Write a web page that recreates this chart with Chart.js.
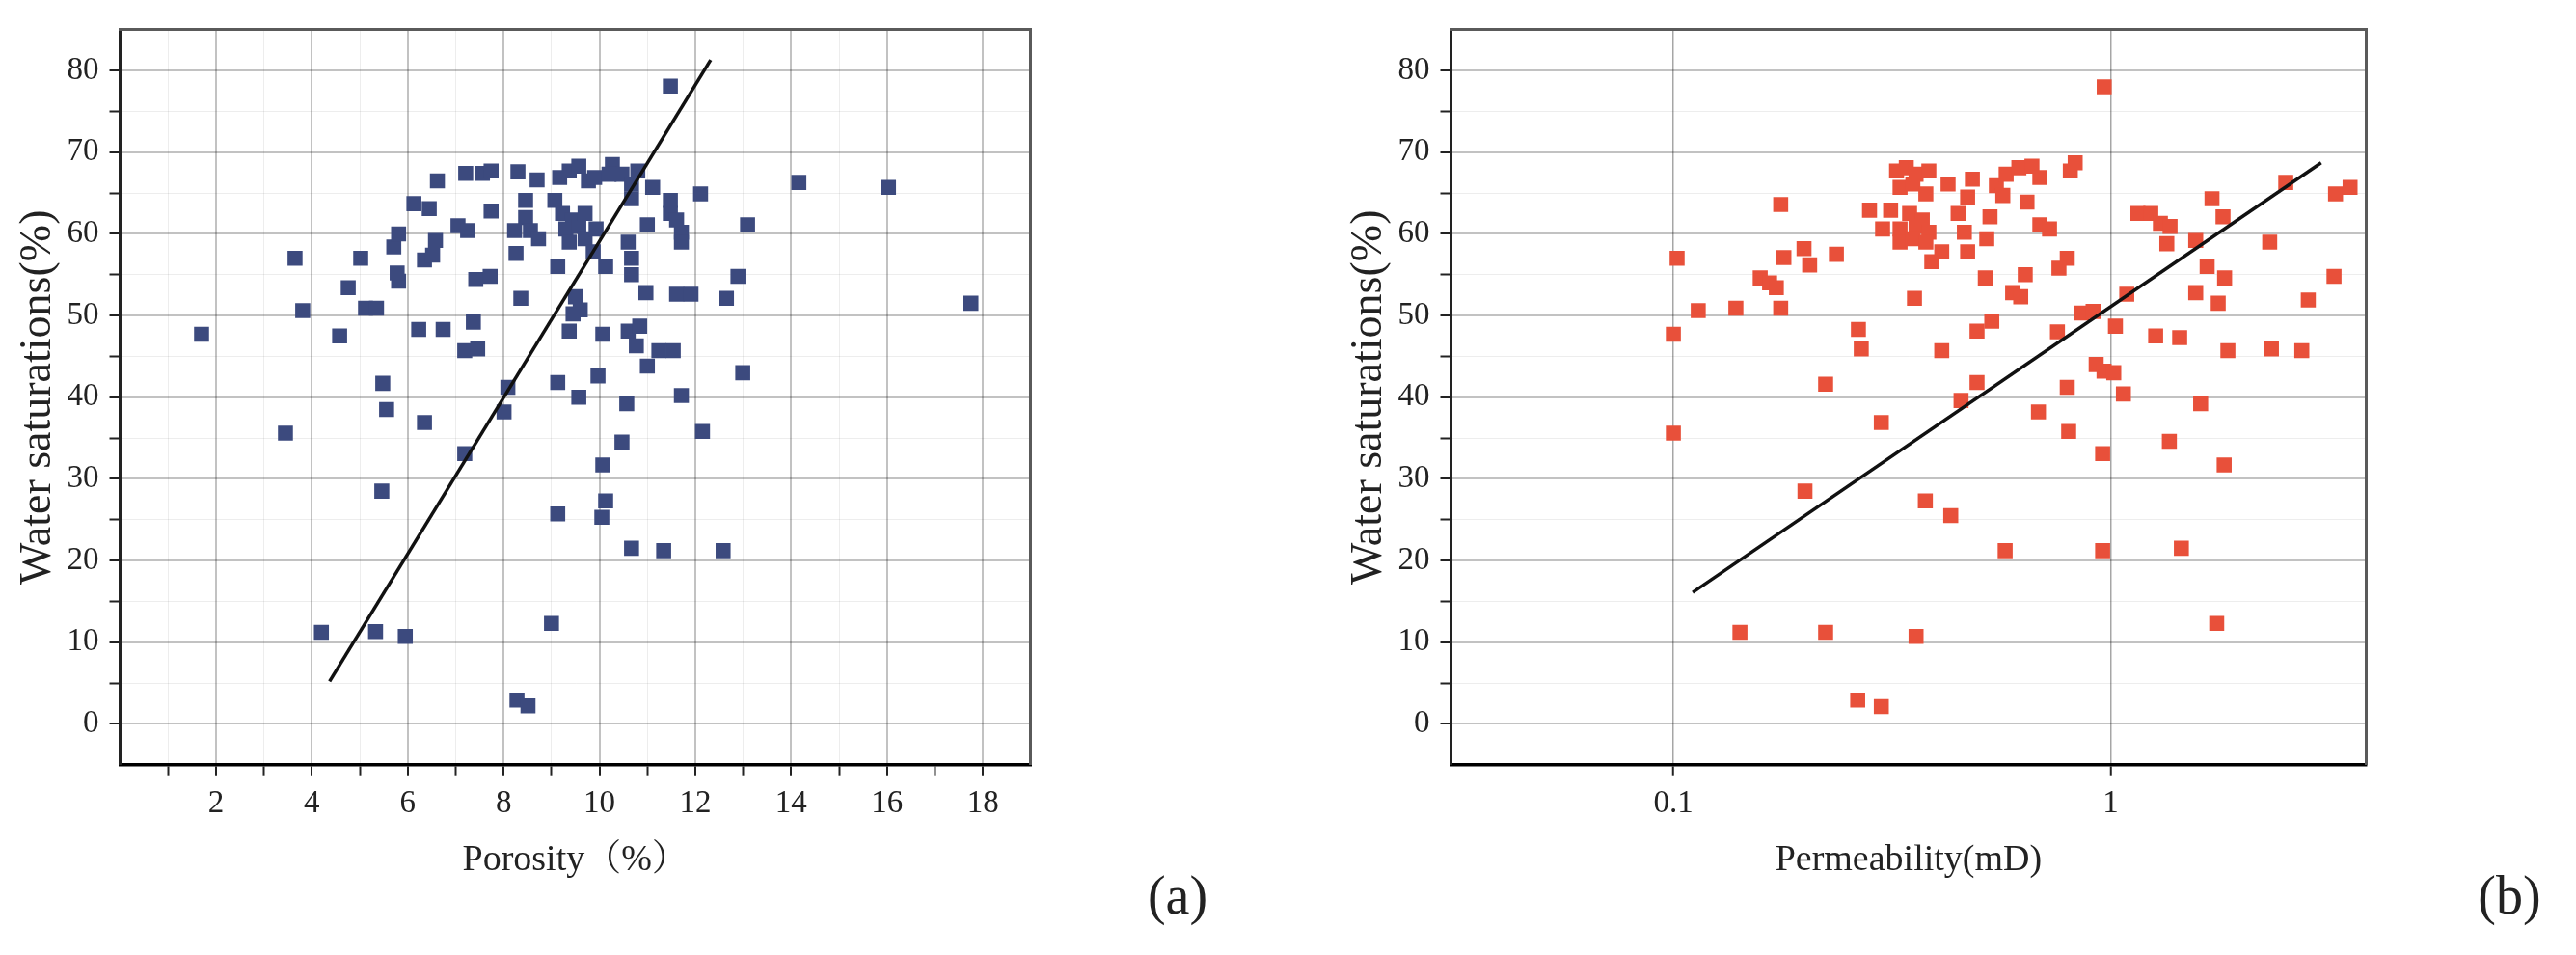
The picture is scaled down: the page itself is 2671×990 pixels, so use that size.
<!DOCTYPE html>
<html>
<head>
<meta charset="utf-8">
<script src="https://cdn.jsdelivr.net/npm/chart.js@4.4.1/dist/chart.umd.min.js"></script>
<style>
  html, body { margin: 0; padding: 0; background: #fff; }
  body { width: 2671px; height: 990px; position: relative; overflow: hidden; }
  canvas { position: absolute; top: 0; }
  #chartA { left: 0; }
  #chartB { left: 1380px; }
  .tag {
    position: absolute; transform: translate(-50%, -50%);
    font-family: 'Liberation Serif', serif; font-size: 56px; color: #222;
  }
</style>
</head>
<body>
<canvas id="chartA" width="1150" height="990"></canvas>
<canvas id="chartB" width="1140" height="990"></canvas>
<div class="tag" style="left:1221px; top:928px;">(a)</div>
<div class="tag" style="left:2602px; top:928px;">(b)</div>
<script>
// (a) water saturation vs porosity
const porosity = [
  1.70, 3.65, 3.81, 4.58, 4.76, 5.02, 5.12, 5.35, 5.48, 5.71, 5.81, 5.81, 5.78, 6.13, 6.45, 6.23,
  6.35, 6.52, 6.58, 6.62, 6.74, 7.05, 7.25, 7.21, 7.37, 7.19, 7.46, 7.42, 7.72, 7.56, 7.74, 7.74,
  8.30, 8.70, 8.46, 8.46, 8.23, 8.56, 8.73, 8.26, 8.36, 8.09, 9.13, 9.13, 9.57, 9.17, 9.37, 9.57,
  9.77, 9.07, 9.23, 9.44, 9.30, 9.57, 9.70, 9.37, 9.70, 9.50, 9.60, 9.45, 9.37,
  11.48, 10.27, 9.90, 10.20, 10.47, 10.80, 10.67, 11.11, 12.11, 10.67, 11.48, 11.00, 11.48, 11.61,
  11.71, 11.71, 13.09, 14.16, 16.03, 9.93, 9.87, 10.13, 10.60, 10.67, 10.67, 10.97, 11.61, 11.91,
  12.89, 12.65, 17.75, 10.07, 10.60, 10.84, 10.77, 11.24, 11.54, 11.00, 9.97, 12.99, 11.71, 10.57,
  5.56, 3.45, 6.35, 7.19, 8.01, 5.46, 9.13, 4.20, 5.33, 5.95, 9.00, 8.28, 8.51, 12.15, 10.47, 10.07,
  10.13, 10.05, 10.67, 11.34, 12.58
];
const swPorosity = [
  47.7, 57.0, 50.6, 47.5, 53.4, 57.0, 50.9, 50.9, 41.7, 58.4, 60.0, 54.2, 55.2, 63.7, 63.1, 48.3,
  56.8, 57.4, 59.2, 66.5, 48.3, 61.0, 60.4, 67.4, 49.2, 45.7, 45.9, 54.4, 54.8, 67.4, 67.7, 62.8,
  67.6, 66.6, 64.1, 62.0, 60.4, 60.4, 59.4, 57.6, 52.1, 41.2, 56.0, 41.8, 40.0, 66.9, 67.7, 68.3,
  66.5, 64.1, 62.5, 61.7, 60.6, 60.9, 62.5, 59.0, 59.4, 52.3, 50.7, 50.2, 48.1,
  78.1, 68.5, 66.9, 67.3, 67.3, 67.7, 66.1, 65.7, 64.9, 64.3, 64.1, 61.1, 62.5, 61.7,
  60.2, 59.0, 61.1, 66.3, 65.7, 60.6, 57.8, 56.0, 59.0, 57.0, 55.0, 52.8, 52.6, 52.6,
  54.8, 52.1, 51.5, 47.7, 48.1, 48.7, 46.3, 45.7, 45.7, 43.8, 42.6, 43.0, 40.2, 39.2,
  38.5, 35.6, 36.9, 33.1, 38.2, 28.5, 25.7, 11.2, 11.3, 10.7, 12.3, 2.9, 2.2, 35.8, 34.5, 31.7,
  27.3, 25.3, 21.5, 21.2, 21.2
];
const porosityFitX = [4.37, 12.32];
const porosityFitY = [5.2, 81.3];
const porosityLabels = [2, 4, 6, 8, 10, 12, 14, 16, 18];

// (b) water saturation vs permeability
const permeability = [
  0.102, 0.100, 0.114, 0.139, 0.176, 0.179, 0.176, 0.158, 0.166, 0.172, 0.199, 0.205, 0.236, 0.265,
  0.269, 0.223, 0.356, 0.281, 0.301, 0.324, 0.341, 0.359, 0.384, 0.330, 0.353, 0.378, 0.314, 0.347,
  0.371, 0.330, 0.359, 0.384, 0.330, 0.353, 0.378, 0.390,
  0.967, 0.425, 0.483, 0.548, 0.577, 0.617, 0.661, 0.689, 0.809, 0.830, 0.471, 0.567, 0.644, 0.448,
  0.530, 0.463, 0.521, 0.411, 0.471, 0.689, 0.725, 0.796, 0.762, 0.517, 0.638, 0.597, 0.623, 0.495,
  0.535, 0.411, 0.495, 0.455, 0.756, 0.796, 0.859, 0.912, 0.927, 0.966, 1.017, 1.070, 1.026, 1.089,
  1.155, 1.236, 1.300, 1.368, 1.345, 1.268, 1.439, 1.566, 1.706, 1.808, 1.663, 1.823, 1.566, 1.763,
  1.855, 2.333, 2.738, 2.312, 2.516, 2.833, 3.244, 3.270, 3.530, 1.607,
  0.100, 0.299, 0.200, 0.377, 0.142, 0.223, 0.359, 0.264, 0.299, 0.684, 0.802, 1.363, 0.959, 1.819,
  0.431, 0.574, 0.959, 1.452, 1.749
];
const swPermeability = [
  57.0, 47.7, 50.6, 50.9, 63.6, 57.1, 50.9, 54.6, 54.0, 53.4, 58.2, 56.2, 57.5, 48.3,
  45.9, 41.6, 52.1, 62.9, 60.6, 67.7, 68.1, 67.3, 67.7, 65.7, 66.1, 64.9, 62.9, 62.5,
  61.7, 60.6, 60.9, 60.2, 59.0, 59.4, 59.0, 56.6,
  78.0, 66.1, 66.7, 65.9, 67.3, 68.1, 68.3, 66.9, 67.7, 68.7, 64.5, 64.7, 63.9, 62.5,
  62.1, 60.2, 59.4, 57.8, 57.8, 61.1, 60.6, 57.0, 55.8, 54.6, 55.0, 52.8, 52.3, 48.1,
  49.3, 45.7, 41.8, 39.6, 48.0, 41.2, 50.3, 50.5, 44.0, 43.2, 43.0, 40.4, 48.7, 52.6,
  62.5, 62.5, 61.3, 60.9, 58.8, 47.5, 47.3, 59.2, 64.3, 62.1, 56.0, 54.6, 52.8, 51.5,
  45.7, 45.9, 45.7, 59.0, 66.3, 51.9, 54.8, 64.9, 65.7, 39.2,
  35.6, 36.9, 28.5, 27.3, 11.2, 11.2, 10.7, 2.9, 2.1, 38.2, 35.8, 34.6, 33.1, 31.7,
  25.5, 21.2, 21.2, 21.5, 12.3
];
const permFitX = [0.1107, 3.031];
const permFitY = [16.1, 68.7];
const permLabels = [0.1, 1];

const swLabels = [0, 10, 20, 30, 40, 50, 60, 70, 80];

const FONT = "'Liberation Serif', 'Noto Serif CJK SC', 'Noto Sans CJK SC', serif";
const INK = '#222';
const MAJOR = 'rgba(0,0,0,0.24)';
const MINOR = 'rgba(0,0,0,0.07)';
const PLOT_TOP = 30;
const AXIS_H = 990 - 792.7;
const AXIS_W = 124.5;

function pts(xs, ys) {
  return xs.map((x, i) => ({ x, y: ys[i] }));
}

function swAxis() {
  const edge = v => v === -5 || v === 85;
  return {
    type: 'linear', min: -5, max: 85,
    afterFit: s => { s.width = AXIS_W; },
    ticks: {
      stepSize: 5, autoSkip: false, padding: 11, color: INK,
      font: { family: FONT, size: 33 },
      callback: v => swLabels.includes(v) ? String(v) : ''
    },
    grid: {
      color: c => edge(c.tick.value) ? 'transparent' : (c.tick.value % 10 === 0 ? MAJOR : MINOR),
      lineWidth: c => c.tick.value % 10 === 0 ? 2 : 1,
      tickLength: 11, tickWidth: 2,
      tickColor: c => edge(c.tick.value) ? 'transparent' : INK
    },
    border: { display: true, color: INK, width: 3 },
    title: {
      display: true, text: 'Water saturations(%)', color: INK,
      font: { family: FONT, size: 46 }, padding: { top: 12, bottom: 0 }
    }
  };
}

// border-only axes to close the frame on top and right
function frameAxis(axis, position) {
  return {
    type: 'linear', axis, position, min: 0, max: 1,
    afterFit: s => { if (axis === 'x') s.height = 0; else s.width = 0; },
    ticks: { display: false },
    grid: { display: false, drawTicks: false },
    border: { display: true, color: '#5a5a5a', width: 3 }
  };
}

function datasets(xs, ys, fitX, fitY, color) {
  return [
    { data: pts(fitX, fitY), showLine: true, borderColor: '#111', borderWidth: 3.5,
      pointRadius: 0, order: 0 },
    { data: pts(xs, ys), pointStyle: 'rect', pointRadius: 11, backgroundColor: color,
      borderWidth: 0, order: 1 }
  ];
}

const common = {
  responsive: false,
  animation: false,
  plugins: { legend: { display: false }, tooltip: { enabled: false } }
};

new Chart(document.getElementById('chartA'), {
  type: 'scatter',
  data: { datasets: datasets(porosity, swPorosity, porosityFitX, porosityFitY, '#3c4a7e') },
  options: {
    ...common,
    layout: { padding: { top: PLOT_TOP, right: 1150 - 1068.9, left: 0, bottom: 0 } },
    scales: {
      x: {
        type: 'linear', min: 0, max: 19,
        afterFit: s => { s.height = AXIS_H; },
        ticks: {
          stepSize: 1, autoSkip: false, maxRotation: 0, padding: 10, color: INK,
          font: { family: FONT, size: 33 },
          callback: v => porosityLabels.includes(v) ? String(v) : ''
        },
        grid: {
          color: c => (c.tick.value === 0 || c.tick.value === 19) ? 'transparent'
            : (c.tick.value % 2 === 0 ? MAJOR : MINOR),
          lineWidth: c => c.tick.value % 2 === 0 ? 2 : 1,
          tickLength: 11, tickWidth: 2,
          tickColor: c => (c.tick.value === 0 || c.tick.value === 19) ? 'transparent' : INK
        },
        border: { display: true, color: '#000', width: 3.5 },
        title: {
          display: true, text: 'Porosity（%）', color: INK,
          font: { family: FONT, size: 38 }, padding: { top: 0, bottom: 75 }
        }
      },
      y: swAxis(),
      x2: frameAxis('x', 'top'),
      y2: frameAxis('y', 'right')
    }
  }
});

new Chart(document.getElementById('chartB'), {
  type: 'scatter',
  data: { datasets: datasets(permeability, swPermeability, permFitX, permFitY, '#e8503a') },
  options: {
    ...common,
    layout: { padding: { top: PLOT_TOP, right: 1380 + 1140 - 2453.3, left: 0, bottom: 0 } },
    scales: {
      x: {
        type: 'logarithmic', min: 0.031, max: 3.84,
        afterFit: s => { s.height = AXIS_H; },
        afterBuildTicks: s => { s.ticks = permLabels.map(v => ({ value: v })); },
        ticks: {
          autoSkip: false, maxRotation: 0, padding: 10, color: INK,
          font: { family: FONT, size: 33 },
          callback: v => String(v)
        },
        grid: {
          color: 'rgba(0,0,0,0.35)', lineWidth: 1.5,
          tickLength: 11, tickWidth: 2, tickColor: INK
        },
        border: { display: true, color: '#000', width: 3.5 },
        title: {
          display: true, text: 'Permeability(mD)', color: INK,
          font: { family: FONT, size: 38 }, padding: { top: 0, bottom: 75 }
        }
      },
      y: swAxis(),
      x2: frameAxis('x', 'top'),
      y2: frameAxis('y', 'right')
    }
  }
});
</script>
</body>
</html>
